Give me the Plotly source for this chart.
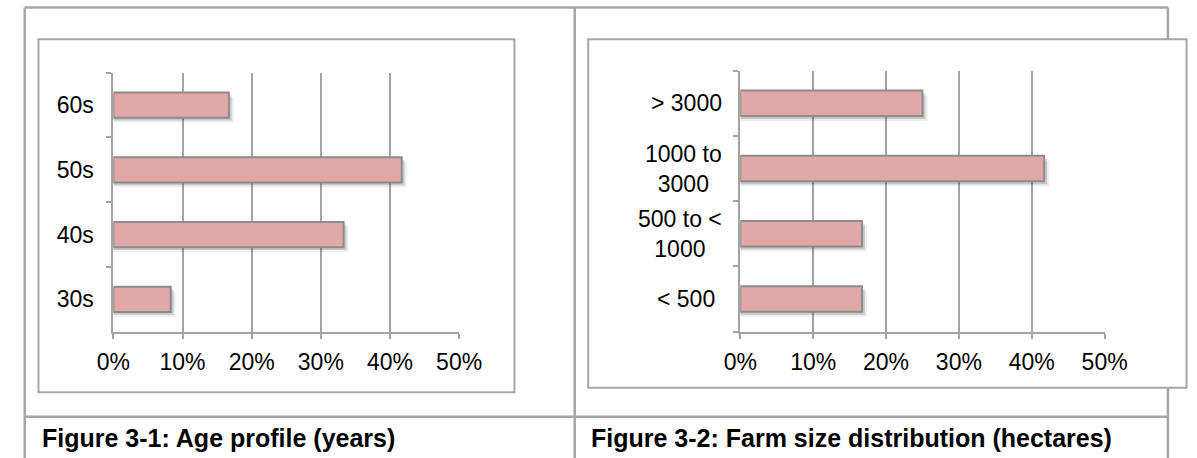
import plotly.graph_objects as go

# ---- data -------------------------------------------------------------
age_groups = ["30s", "40s", "50s", "60s"]
age_share = [8.3, 33.3, 41.7, 16.7]          # % of respondents

farm_sizes = ["< 500", "500 to < 1000", "1000 to 3000", "> 3000"]
farm_labels = ["< 500\u00a0", "500 to <<br>1000", "1000 to<br>3000", "> 3000"]
farm_share = [16.7, 16.7, 41.7, 25.0]         # % of farms

x_ticks = [0, 10, 20, 30, 40, 50]
x_tick_labels = ["0%", "10%", "20%", "30%", "40%", "50%"]

caption_left = "Figure 3-1: Age profile (years)"
caption_right = "Figure 3-2: Farm size distribution (hectares)"

# ---- styling ----------------------------------------------------------
W, H = 1197, 458
FONT = "Liberation Sans, Arial, Helvetica, sans-serif"
BAR_FILL = "#e2a8a7"
BAR_EDGE = "#8c8c8c"
GRID = "#a3a3a3"
FRAME = "#a6a6a6"
TXT = "#000000"
BAR_W = 0.39
LABEL_SIZE = 23
CAPTION_SIZE = 25


def px_x(v):
    return v / W


def px_y(v):
    return 1 - v / H


def esc(s):
    return s.replace("<<br>", "&lt;<br>").replace("< ", "&lt; ").replace("> ", "&gt; ")


fig = go.Figure()


def add_bars(cats, vals, xa, ya):
    # soft drop shadow, two layers, then the bar itself
    for dx, dy, alpha in [(0.7, 0.075, 0.07), (0.4, 0.045, 0.16)]:
        fig.add_trace(go.Bar(
            y=cats, x=[v + dx for v in vals], orientation="h",
            width=BAR_W, offset=-BAR_W / 2 - dy,
            marker=dict(color=f"rgba(0,0,0,{alpha})", line=dict(width=0)),
            xaxis=xa, yaxis=ya, hoverinfo="skip", showlegend=False,
        ))
    fig.add_trace(go.Bar(
        y=cats, x=vals, orientation="h", width=BAR_W, offset=-BAR_W / 2,
        marker=dict(color=BAR_FILL, line=dict(color=BAR_EDGE, width=2)),
        xaxis=xa, yaxis=ya, showlegend=False,
    ))


add_bars(age_groups, age_share, "x", "y")
add_bars(farm_sizes, farm_share, "x2", "y2")

xcommon = dict(
    range=[0, 50], tickmode="array", tickvals=x_ticks, ticktext=x_tick_labels,
    showgrid=True, gridcolor=GRID, gridwidth=2,
    showline=True, linecolor=GRID, linewidth=2,
    ticks="outside", ticklen=5, tickcolor=GRID, tickwidth=2,
    zeroline=False, fixedrange=True,
    tickfont=dict(family=FONT, size=LABEL_SIZE, color=TXT),
    ticklabelstandoff=4,
)
ycommon = dict(
    type="category", range=[-0.5, 3.5], tickson="boundaries",
    showgrid=False, showline=True, linecolor=GRID, linewidth=2,
    ticks="outside", ticklen=5, tickcolor=GRID, tickwidth=2,
    zeroline=False, fixedrange=True,
    tickfont=dict(family=FONT, size=LABEL_SIZE, color=TXT),
)

fig.update_layout(
    width=W, height=H, margin=dict(l=0, r=0, t=0, b=0),
    paper_bgcolor="white", plot_bgcolor="rgba(0,0,0,0)",
    barmode="overlay", showlegend=False,
    xaxis=dict(domain=[px_x(99.7), px_x(457.4)], anchor="y", **xcommon),
    yaxis=dict(domain=[px_y(331.7), px_y(72.7)], anchor="x",
               categoryorder="array", categoryarray=age_groups,
               ticklabelstandoff=13, **ycommon),
    xaxis2=dict(domain=[px_x(748.3), px_x(1125.2)], anchor="y2", **xcommon),
    yaxis2=dict(domain=[px_y(331.7), px_y(70.7)], anchor="x2",
                categoryorder="array", categoryarray=farm_sizes,
                showticklabels=False, **ycommon),
)

# ---- table frame and chart boxes ---------------------------------------
shapes = []
frame_line = dict(color=FRAME, width=2.5)
for x0, y0, x1, y1 in [
    (8, 7.5, 1190.7, 7.5),      # top rule
    (8, 7.5, 8, 470),           # left rule
    (577, 7.5, 577, 470),       # column divider
    (1190.7, 7.5, 1190.7, 470), # right rule
    (8, 416.7, 1190.7, 416.7),  # row divider
]:
    shapes.append(dict(type="line", xref="paper", yref="paper",
                       x0=px_x(x0), y0=px_y(y0), x1=px_x(x1), y1=px_y(y1),
                       line=frame_line, layer="below"))
for x0, y0, x1, y1 in [(22.2, 39.3, 514.6, 392.3), (590.9, 39.3, 1210, 387.7)]:
    shapes.append(dict(type="rect", xref="paper", yref="paper",
                       x0=px_x(x0), y0=px_y(y1), x1=px_x(x1), y1=px_y(y0),
                       line=dict(color=FRAME, width=2), fillcolor="white",
                       layer="below"))
fig.update_layout(shapes=shapes)

# ---- category labels of the farm-size chart (centred two-line labels) --
annotations = []
for cat, lab in zip(farm_sizes, farm_labels):
    annotations.append(dict(
        text=esc(lab), xref="paper", yref="y2", x=px_x(731), y=cat,
        xanchor="right", yanchor="middle", align="center", showarrow=False,
        font=dict(family=FONT, size=LABEL_SIZE, color=TXT),
    ))

# ---- captions ------------------------------------------------------------
for x, text in [(23.8, caption_left), (591.7, caption_right)]:
    annotations.append(dict(
        text=f"<b>{text}</b>", xref="paper", yref="paper",
        x=px_x(x), y=px_y(438), xanchor="left", yanchor="middle",
        showarrow=False, font=dict(family=FONT, size=CAPTION_SIZE, color=TXT),
    ))
fig.update_layout(annotations=annotations)

fig.write_html("out.html")
